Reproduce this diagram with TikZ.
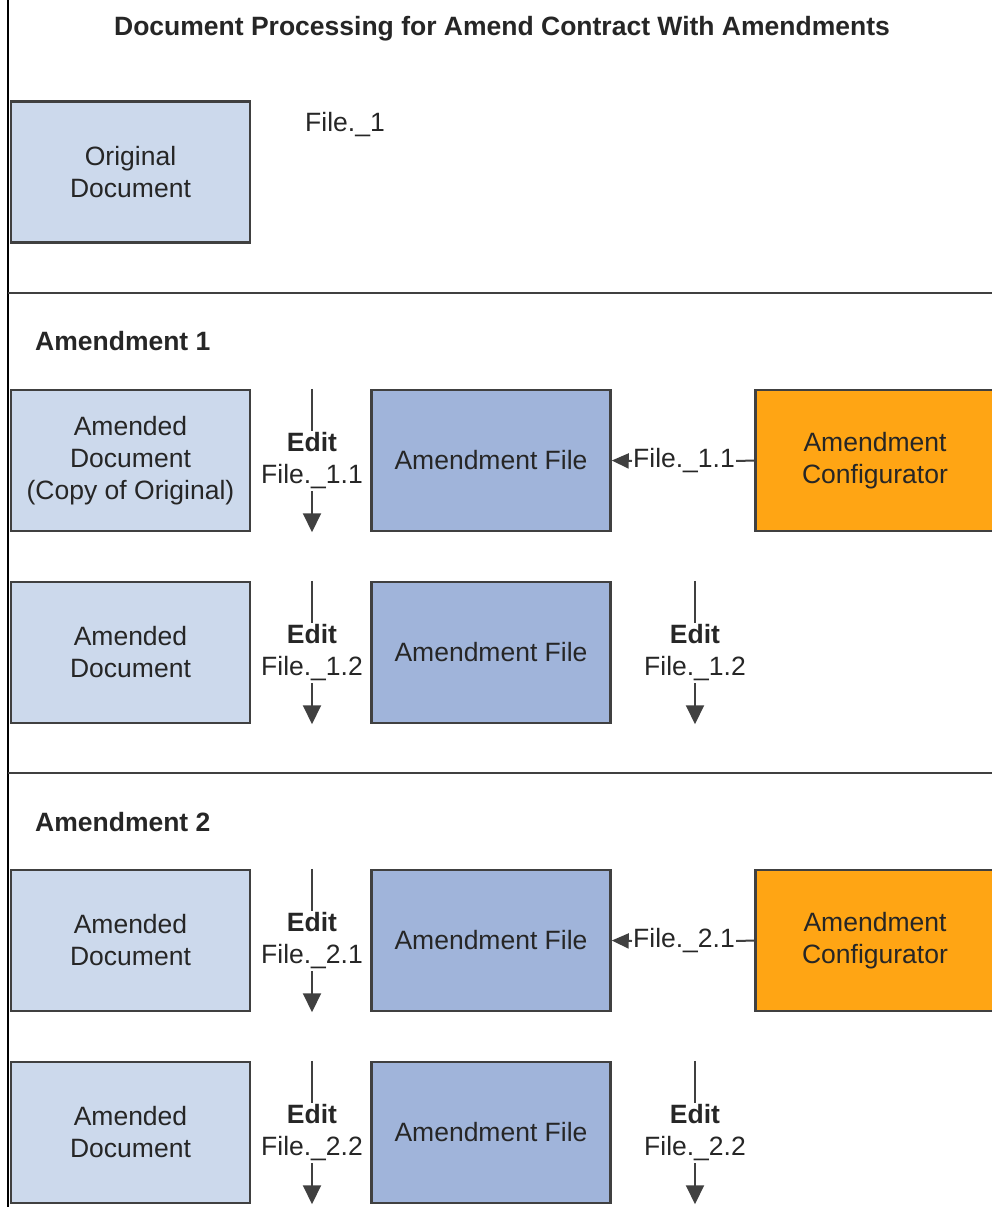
\documentclass[tikz,border=0pt]{standalone}
\usepackage{fontspec}
\setmainfont{Liberation Sans}
\usepackage{xcolor}
\usepackage{tikz}
\usetikzlibrary{arrows.meta,positioning}
\definecolor{docblue}{HTML}{CCD9EC}
\definecolor{fileblue}{HTML}{A0B4DA}
\definecolor{cfgorange}{HTML}{FFA514}
\definecolor{linegray}{HTML}{404040}
\definecolor{textgray}{HTML}{262626}
\newcommand{\diafont}{\fontsize{26.5}{32}\selectfont}
\tikzset{>={Triangle[length=19pt,width=18pt]}}

\begin{document}
\begin{tikzpicture}[x=1pt, y=-1pt,
    every node/.style={font=\diafont, text=textgray},
    box/.style={draw=linegray, line width=2.5pt, minimum width=239pt, minimum height=141pt, align=center, inner sep=0pt},
    docbox/.style={box, fill=docblue},
    filebox/.style={box, fill=fileblue},
    cfgbox/.style={box, fill=cfgorange},
    editlbl/.style={align=center, inner sep=2pt},
    conn/.style={linegray, line width=2pt},
    sepline/.style={linegray, line width=2.5pt}]
			\useasboundingbox (0,0) rectangle (992,1207);
			\clip (0,0) rectangle (992,1207);
			
			% Frame and title
			\draw[black, line width=1.5pt] (8,0) -- (8,1207);
			\node[font=\diafont\bfseries] (title) at (502,29) {Document Processing for Amend Contract With Amendments};
			
			% Original document
			\node[docbox] (orig) at (130.5,172) {Original\\Document};
			\node (f1) at (345,125) {File.\_1};
			
			\draw[sepline] (8,293) -- (992,293);
			
			% Amendment 1
			\node[anchor=west, inner sep=0pt, font=\diafont\bfseries] (am1) at (35,341) {Amendment 1};
			
			\node[docbox] (ad11) at (130.5,460.5) {Amended\\Document\\(Copy of Original)};
			\node[filebox] (af11) at (491,460.5) {Amendment File};
			\node[cfgbox] (cfg1) at (875,460.5) {Amendment\\Configurator};
			\node[editlbl] (e11) at (312,461) {\textbf{Edit}\\File.\_1.1};
			\draw[conn] (e11 |- ad11.north) -- (e11.north);
			\draw[conn, ->] (e11.south) -- (e11 |- ad11.south);
			\node[inner sep=1pt] (c11) at (684,461) {File.\_1.1};
			\draw[conn] (cfg1.west) -- (c11.east);
			\draw[conn, -{Triangle[length=17pt,width=15pt]}] (c11.west) -- (af11.east);
			
			\node[docbox] (ad12) at (130.5,652.5) {Amended\\Document};
			\node[filebox] (af12) at (491,652.5) {Amendment File};
			\node[editlbl] (e12) at (312,653) {\textbf{Edit}\\File.\_1.2};
			\draw[conn] (e12 |- ad12.north) -- (e12.north);
			\draw[conn, ->] (e12.south) -- (e12 |- ad12.south);
			\node[editlbl] (e12b) at (695,653) {\textbf{Edit}\\File.\_1.2};
			\draw[conn] (e12b |- af12.north) -- (e12b.north);
			\draw[conn, ->] (e12b.south) -- (e12b |- af12.south);
			
			\draw[sepline] (8,773) -- (992,773);
			
			% Amendment 2
			\node[anchor=west, inner sep=0pt, font=\diafont\bfseries] (am2) at (35,822) {Amendment 2};
			
			\node[docbox] (ad21) at (130.5,940.5) {Amended\\Document};
			\node[filebox] (af21) at (491,940.5) {Amendment File};
			\node[cfgbox] (cfg2) at (875,940.5) {Amendment\\Configurator};
			\node[editlbl] (e21) at (312,941) {\textbf{Edit}\\File.\_2.1};
			\draw[conn] (e21 |- ad21.north) -- (e21.north);
			\draw[conn, ->] (e21.south) -- (e21 |- ad21.south);
			\node[inner sep=1pt] (c21) at (684,941) {File.\_2.1};
			\draw[conn] (cfg2.west) -- (c21.east);
			\draw[conn, -{Triangle[length=17pt,width=15pt]}] (c21.west) -- (af21.east);
			
			\node[docbox] (ad22) at (130.5,1132.5) {Amended\\Document};
			\node[filebox] (af22) at (491,1132.5) {Amendment File};
			\node[editlbl] (e22) at (312,1133) {\textbf{Edit}\\File.\_2.2};
			\draw[conn] (e22 |- ad22.north) -- (e22.north);
			\draw[conn, ->] (e22.south) -- (e22 |- ad22.south);
			\node[editlbl] (e22b) at (695,1133) {\textbf{Edit}\\File.\_2.2};
			\draw[conn] (e22b |- af22.north) -- (e22b.north);
			\draw[conn, ->] (e22b.south) -- (e22b |- af22.south);
		\end{tikzpicture}
\end{document}
